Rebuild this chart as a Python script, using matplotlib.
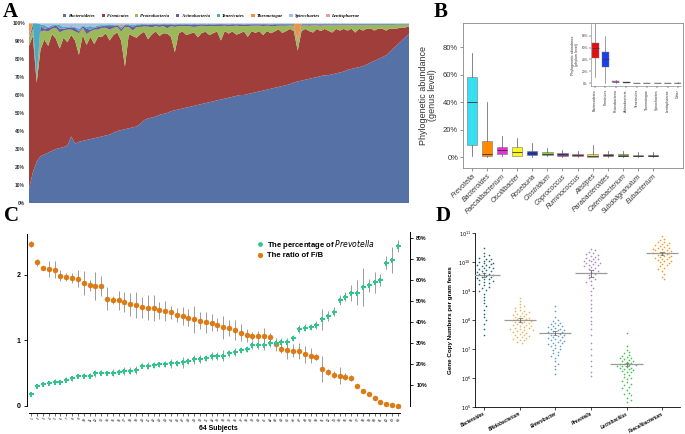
import matplotlib
matplotlib.use('Agg')
import matplotlib.pyplot as plt
from matplotlib.lines import Line2D
import numpy as np

plt.rcParams['font.family'] = ['Liberation Sans', 'DejaVu Sans']

# ---------------- panel A: phylum composition per sample (%)
phylum_names = ['Bacteroidetes', 'Firmicutes', 'Proteobacteria', 'Actinobacteria',
                'Tenericutes', 'Thermotogae', 'Spirochaetes', 'Lentisphaerae']
phylum_colors = ['#5571a6', '#9f3e3b', '#9bb95a', '#6e5a9a',
                 '#4aaac4', '#f19146', '#a9bde0', '#e3a19d']

bacteroidetes = [8, 17, 23, 26, 27, 28, 29, 30, 30.5, 31,
                 32, 37, 33, 34, 34.5, 35, 35.5, 36, 36.5, 37,
                 37.5, 38, 39, 40, 40.5, 41, 41.5, 42, 42.5, 44,
                 46, 47, 47.5, 48, 49, 49.5, 50, 51, 51.5, 52,
                 52.5, 53, 53.5, 54, 54.5, 55, 55.5, 56, 56.5, 57,
                 57.5, 58, 58.5, 59, 59.5, 60, 60, 60.5, 61, 61.5,
                 62, 62.5, 63, 63.5, 64, 64.5, 65, 65.5, 66, 67,
                 67.5, 68, 68.5, 69, 69.5, 70, 70.5, 71, 71, 71.5,
                 72, 72.5, 73, 74, 74.5, 75, 75.5, 76, 77, 78,
                 79, 80, 81, 82, 84, 86, 88, 90, 92, 94]
proteobacteria = [3, 4, 2, 10, 5, 8, 3, 6, 9, 4,
                  7, 3, 5, 12, 4, 6, 3, 8, 4, 5,
                  3, 6, 4, 3, 5, 22, 4, 3, 6, 4,
                  3, 7, 4, 3, 5, 4, 3, 6, 14, 4,
                  3, 5, 4, 3, 6, 4, 3, 5, 4, 3,
                  8, 3, 4, 3, 5, 4, 3, 6, 3, 4,
                  3, 5, 3, 4, 3, 2, 4, 3, 2, 3,
                  4, 3, 2, 3, 4, 2, 3, 2, 3, 4,
                  2, 3, 2, 3, 2, 4, 2, 3, 2, 2,
                  3, 2, 2, 3, 2, 2, 2, 1.5, 1.5, 1]
actinobacteria = [1, 2, 1, 3, 1, 2, 1, 1.5, 2, 1,
                  1, 1, 2, 1, 1, 3, 1, 1, 1.5, 1,
                  1, 2, 1, 1, 1.5, 1, 1, 2, 1, 1,
                  1, 1, 1.5, 1, 1, 1, 2, 1, 1, 1,
                  0.8, 1, 1, 1.5, 1, 0.8, 1, 1, 0.8, 1,
                  1, 0.8, 1, 1, 0.8, 1, 0.8, 1, 0.8, 0.8,
                  0.8, 1, 0.8, 0.8, 1, 0.8, 0.8, 0.8, 0.6, 0.8,
                  0.6, 0.8, 0.6, 0.8, 0.6, 0.6, 0.8, 0.6, 0.6, 0.6,
                  0.6, 0.5, 0.6, 0.5, 0.5, 0.6, 0.5, 0.5, 0.5, 0.4,
                  0.5, 0.4, 0.4, 0.5, 0.4, 0.4, 0.3, 0.3, 0.3, 0.3]
tenericutes = [0.5, 1, 30, 1, 2, 0.5, 1, 0.5, 2, 1,
               0.5, 1, 0.5, 1.5, 0.5, 1, 2, 0.5, 1, 0.5,
               0.5, 1, 0.5, 0.5, 1, 0.5, 0.5, 1, 0.5, 0.5,
               0.5, 0.3, 0.5, 0.3, 0.5, 0.3, 0.5, 0.3, 0.5, 0.3,
               0.5, 0.3, 0.5, 0.3, 0.5, 0.3, 0.5, 0.3, 0.5, 0.3,
               0.3, 0.3, 0.5, 0.3, 0.3, 0.3, 0.5, 0.3, 0.3, 0.3,
               0.3, 0.3, 0.3, 0.5, 0.3, 0.3, 0.3, 0.3, 0.3, 0.3,
               0.3, 0.3, 0.3, 0.3, 0.3, 0.3, 0.3, 0.3, 0.3, 0.3,
               0.3, 0.3, 0.3, 0.3, 0.3, 0.3, 0.3, 0.3, 0.3, 0.3,
               0.3, 0.3, 0.3, 0.3, 0.3, 0.3, 0.3, 0.3, 0.3, 0.3]
thermotogae = [8, 0, 0, 0, 0, 0, 0, 0, 0, 0,
               0, 0, 0, 0, 0, 0, 0, 0, 0, 0,
               0, 0, 0, 0, 1, 0, 0, 0, 0, 0,
               0, 0, 0, 0, 0, 0, 0, 0, 0, 0,
               0, 0, 0, 0, 0, 0, 0, 0, 0, 0,
               0, 0, 0, 0, 0, 0, 0, 0, 0, 0,
               0, 0, 0, 0, 0, 0, 0, 0, 0, 0,
               10, 0, 0, 0, 0, 0, 0, 0, 0, 0,
               0, 0, 0, 0, 0, 0, 0, 0, 0, 0,
               0, 0, 0, 0, 0, 0, 0, 0, 0, 0]
spirochaetes = [0, 0, 0, 0.5, 1, 2, 1, 0.5, 1, 2,
                2, 1.5, 2, 3, 1, 2, 1.5, 2, 1, 1,
                1, 0.5, 1, 0.5, 1, 0.5, 0.5, 1, 0.5, 0.5,
                0.2, 0.5, 0.2, 0.2, 0.5, 0.2, 0.2, 0.2, 0.5, 0.2,
                0.2, 0.2, 0.2, 0.2, 0.2, 0.2, 0.2, 0.2, 0.2, 0.2,
                0.2, 0.2, 0.2, 0.2, 0.2, 0.2, 0.2, 0.2, 0.2, 0.2,
                0.2, 0.2, 0.2, 0.2, 0.2, 0.2, 0.2, 0.2, 0.2, 0.2,
                0.2, 0.2, 0.2, 0.2, 0.2, 0.2, 0.2, 0.2, 0.2, 0.2,
                0.2, 0.2, 0.2, 0.2, 0.2, 0.2, 0.2, 0.2, 0.2, 0.2,
                0.2, 0.2, 0.2, 0.2, 0.2, 0.2, 0.2, 0.2, 0.2, 0.2]
lentisphaerae = [0.2, 0.2, 0.2, 0.2, 0.2, 0.2, 0.2, 0.2, 0.2, 0.2,
                 0.2, 0.2, 0.2, 0.2, 0.2, 0.2, 0.2, 0.2, 0.2, 0.2,
                 0.2, 0.2, 0.2, 0.2, 0.2, 0.2, 0.2, 0.2, 0.2, 0.2,
                 0.2, 0.2, 0.2, 0.2, 0.2, 0.2, 0.2, 0.2, 0.2, 0.2,
                 0.2, 0.2, 0.2, 0.2, 0.2, 0.2, 0.2, 0.2, 0.2, 0.2,
                 0.2, 0.2, 0.2, 0.2, 0.2, 0.2, 0.2, 0.2, 0.2, 0.2,
                 0.2, 0.2, 0.2, 0.2, 0.2, 0.2, 0.2, 0.2, 0.2, 0.2,
                 0.2, 0.2, 0.2, 0.2, 0.2, 0.2, 0.2, 0.2, 0.2, 0.2,
                 0.2, 0.2, 0.2, 0.2, 0.2, 0.2, 0.2, 0.2, 0.2, 0.2,
                 0.2, 0.2, 0.2, 0.2, 0.2, 0.2, 0.2, 0.2, 0.2, 0.2]

# ---------------- panel B: genus level boxes (%)
genus_names = ['Prevotella', 'Bacteroides', 'Faecalibacterium', 'Oscillibacter', 'Roseburia',
               'Clostridium', 'Coprococcus', 'Ruminococcus', 'Alistipes', 'Parabacteroides',
               'Catenibacterium', 'Subdoligranulum', 'Eubacterium']
genus_lo = [0.5, 0, 1, 0.5, 0.3, 0.5, 0, 0, 0, 0, 0, 0, 0]
genus_q1 = [9, 0.5, 2.5, 1, 1.5, 1.5, 1, 0.5, 0, 0.5, 0.5, 0.5, 0.5]
genus_med = [40, 2.5, 5, 4, 3, 2.5, 2, 1.5, 1, 1.2, 1, 1, 1]
genus_q3 = [58, 12, 7.5, 7, 4.5, 3.5, 3, 2.5, 2.5, 2.2, 2, 1.5, 1.8]
genus_hi = [76, 40, 15, 14, 10, 6.5, 5, 4.5, 9, 4.5, 4.5, 4, 3.5]
genus_colors = ['#35e0f0', '#ff8a00', '#e830d8', '#f8f820', '#1a38c8', '#88cc44', '#7a3aa8',
                '#e04a8a', '#e8d860', '#a02040', '#6a9030', '#8a9a6a', '#303030']

# inset: phylum level
inset_names = ['Bacteroidetes', 'Firmicutes', 'Proteobacteria', 'Actinobacteria', 'Tenericutes',
               'Thermotogae', 'Spirochaetes', 'Lentisphaerae', 'Other']
inset_lo = [10, 0, 0, 0, 0, 0, 0, 0, 0]
inset_q1 = [43, 28, 1.5, 0.5, 0, 0, 0, 0, 0.2]
inset_med = [60, 40, 2.5, 1, 0.2, 0.1, 0.1, 0.1, 0.4]
inset_q3 = [68, 52, 3.5, 1.3, 0.4, 0.2, 0.2, 0.2, 0.6]
inset_hi = [100, 80, 6, 2, 0.8, 0.5, 0.5, 0.4, 1]
inset_colors = ['#e01010', '#1e3fe8', '#e040c0', '#303030', '#999999',
                '#999999', '#999999', '#999999', '#999999']

# ---------------- panel C: 64 subjects
fb_ratio = [2.47, 2.19, 2.10, 2.09, 2.08, 1.99, 1.97, 1.95, 1.94, 1.88,
            1.84, 1.83, 1.83, 1.64, 1.62, 1.61, 1.59, 1.55, 1.54, 1.51,
            1.50, 1.49, 1.46, 1.45, 1.43, 1.39, 1.37, 1.35, 1.32, 1.30,
            1.28, 1.27, 1.24, 1.20, 1.19, 1.16, 1.12, 1.08, 1.07, 1.07,
            1.07, 1.05, 0.94, 0.87, 0.85, 0.84, 0.84, 0.79, 0.77, 0.75,
            0.56, 0.52, 0.48, 0.46, 0.45, 0.43, 0.31, 0.23, 0.18, 0.12,
            0.06, 0.03, 0.01, 0.00]
fb_err = [0.05, 0.05, 0.03, 0.12, 0.13, 0.08, 0.06, 0.08, 0.13, 0.18,
          0.08, 0.22, 0.15, 0.18, 0.06, 0.14, 0.15, 0.17, 0.20, 0.16,
          0.19, 0.20, 0.13, 0.15, 0.10, 0.11, 0.14, 0.13, 0.20, 0.13,
          0.16, 0.13, 0.10, 0.18, 0.12, 0.15, 0.13, 0.10, 0.06, 0.07,
          0.12, 0.06, 0.10, 0.06, 0.13, 0.10, 0.12, 0.13, 0.12, 0.05,
          0.20, 0.05, 0.05, 0.13, 0.05, 0.05, 0.03, 0.03, 0.03, 0.02,
          0.02, 0.02, 0.02, 0.02]
prevotella_pct = [5.6, 9.5, 10.3, 10.8, 11.6, 11.6, 12.6, 13.2, 14.3, 14.3,
                  14.5, 15.5, 15.8, 15.8, 15.9, 16.3, 16.6, 16.9, 17.2, 19.3,
                  19.3, 19.6, 19.8, 20.0, 20.3, 20.5, 20.8, 21.3, 22.2, 22.4,
                  22.9, 23.7, 23.7, 24.0, 25.1, 25.8, 26.6, 27.1, 29.0, 29.3,
                  29.3, 30.0, 30.1, 30.3, 30.3, 32.5, 36.6, 37.4, 37.7, 38.6,
                  41.4, 43.0, 45.1, 50.7, 52.2, 53.9, 54.1, 56.7, 57.6, 59.1,
                  60.2, 68.4, 69.7, 76.3]
prevotella_err = [0.8, 1.0, 1.0, 1.0, 1.2, 1.0, 1.0, 1.2, 1.0, 1.2,
                  1.0, 1.5, 1.2, 1.0, 1.5, 1.2, 2.0, 1.5, 2.0, 1.2,
                  1.5, 1.5, 1.2, 1.5, 2.0, 1.5, 2.5, 1.5, 2.0, 2.0,
                  1.5, 2.0, 2.0, 2.5, 1.5, 2.0, 1.5, 1.5, 2.0, 2.0,
                  2.5, 2.0, 1.5, 2.0, 2.0, 1.5, 2.0, 1.5, 1.5, 2.0,
                  5.0, 2.5, 2.0, 2.5, 2.0, 4.0, 6.0, 9.0, 3.0, 5.0,
                  3.0, 3.0, 6.0, 3.0]

# ---------------- panel D: log10 gene copies per gram feces
d_names = ['Bacteroides', 'Bifidobacterium', 'Enterobacter', 'Prevotella',
           'Lactobacillus', 'Faecalibacterium']
d_colors = ['#1d6878', '#f2b25a', '#5b9bd5', '#b583c8', '#39c445', '#f39a1e']
d_mean = [9.55, 8.0, 7.55, 9.62, 6.48, 10.3]
d_sem = [0.08, 0.06, 0.07, 0.12, 0.05, 0.05]
bacteroides_log = [10.5, 10.3, 10.25, 10.2, 10.15, 10.12, 10.1, 10.05, 10.02, 10.0,
                   9.98, 9.95, 9.92, 9.9, 9.88, 9.85, 9.82, 9.8, 9.78, 9.75,
                   9.72, 9.7, 9.68, 9.65, 9.62, 9.6, 9.58, 9.55, 9.52, 9.5,
                   9.48, 9.45, 9.42, 9.4, 9.38, 9.35, 9.3, 9.28, 9.25, 9.2,
                   9.15, 9.1, 9.05, 9.0, 8.9, 8.8, 8.7, 8.6, 8.5, 8.35,
                   8.2, 8.1, 8.0, 7.85, 7.7, 7.5]
bifido_log = [8.76, 8.65, 8.55, 8.5, 8.45, 8.4, 8.35, 8.32, 8.3, 8.27,
              8.25, 8.22, 8.2, 8.18, 8.15, 8.13, 8.1, 8.08, 8.06, 8.04,
              8.02, 8.0, 7.98, 7.96, 7.94, 7.92, 7.9, 7.88, 7.86, 7.84,
              7.82, 7.8, 7.78, 7.76, 7.74, 7.72, 7.7, 7.68, 7.66, 7.64,
              7.62, 7.6, 7.58, 7.55, 7.52, 7.5, 7.48, 7.45, 7.42, 7.4,
              7.38, 7.35, 7.32, 7.3, 7.25, 7.2]
entero_log = [8.5, 8.3, 8.1, 8.0, 7.95, 7.9, 7.88, 7.85, 7.82, 7.8,
              7.78, 7.75, 7.72, 7.7, 7.68, 7.66, 7.64, 7.62, 7.6, 7.58,
              7.55, 7.52, 7.5, 7.48, 7.45, 7.42, 7.4, 7.38, 7.35, 7.32,
              7.3, 7.28, 7.25, 7.22, 7.2, 7.18, 7.15, 7.12, 7.1, 7.05,
              7.0, 6.95, 6.9, 6.85, 6.8, 6.75, 6.7, 6.6, 6.5, 6.4,
              6.3, 6.14]
prevo_log = [10.45, 10.4, 10.35, 10.3, 10.28, 10.25, 10.2, 10.18, 10.15, 10.12,
             10.1, 10.08, 10.05, 10.02, 10.0, 9.98, 9.95, 9.92, 9.9, 9.88,
             9.85, 9.82, 9.8, 9.75, 9.72, 9.7, 9.65, 9.6, 9.55, 9.5,
             9.45, 9.4, 9.35, 9.3, 9.2, 9.1, 9.0, 8.85, 8.7, 8.55,
             8.4, 8.3, 8.1, 7.95, 7.85, 7.7, 7.5, 7.2, 7.0, 6.8,
             6.6, 6.4, 6.2, 6.07]
lacto_log = [7.55, 7.1, 6.98, 6.9, 6.85, 6.8, 6.75, 6.72, 6.7, 6.68,
             6.65, 6.62, 6.6, 6.58, 6.55, 6.52, 6.5, 6.48, 6.46, 6.44,
             6.42, 6.4, 6.38, 6.36, 6.34, 6.32, 6.3, 6.28, 6.25, 6.22,
             6.2, 6.15, 6.1, 6.05, 6.0, 5.95, 5.9, 5.85, 5.8, 5.75,
             5.7, 5.65, 5.6, 5.5, 5.45, 5.4, 5.3, 5.25, 5.17]
faecali_log = [10.9, 10.8, 10.75, 10.7, 10.68, 10.65, 10.62, 10.6, 10.58, 10.55,
               10.52, 10.5, 10.48, 10.46, 10.44, 10.42, 10.4, 10.38, 10.36, 10.34,
               10.32, 10.3, 10.28, 10.26, 10.24, 10.22, 10.2, 10.18, 10.16, 10.14,
               10.12, 10.1, 10.08, 10.05, 10.02, 10.0, 9.97, 9.94, 9.9, 9.85,
               9.8, 9.75, 9.7, 9.6, 9.5, 9.4]

W, H = 685, 434


def box(l, t, r, b):
    return [l / W, 1 - b / H, (r - l) / W, (b - t) / H]


def swarm(vals, d=2.9, ppd=29.0, ppu=36.0):
    # simple beeswarm layout, returns x offsets in category units
    placed = []
    offs = []
    for v in vals:
        y = v * ppd
        k = 0
        while True:
            cands = [0.0] if k == 0 else [k * d * 0.8, -k * d * 0.8]
            ok = None
            for cx in cands:
                if all((cx - px) ** 2 + (y - py) ** 2 >= d * d for px, py in placed):
                    ok = cx
                    break
            if ok is not None:
                break
            k += 1
        placed.append((ok, y))
        offs.append(ok / ppu)
    return np.array(offs)


fig = plt.figure(figsize=(6.85, 4.34), dpi=100)

label_kw = dict(family='Liberation Serif', weight='bold', fontsize=15, va='top')
fig.text(3 / W, 1 - 2 / H, 'A', **label_kw)
fig.text(434 / W, 1 - 2 / H, 'B', **label_kw)
fig.text(4 / W, 1 - 206 / H, 'C', **label_kw)
fig.text(436 / W, 1 - 206 / H, 'D', **label_kw)

# ---- A
axA = fig.add_axes(box(29, 23, 409, 203))
others = np.array([bacteroidetes, proteobacteria, actinobacteria, tenericutes,
                   thermotogae, spirochaetes, lentisphaerae])
firmicutes = 100 - others.sum(axis=0)
layers = [bacteroidetes, firmicutes, proteobacteria, actinobacteria, tenericutes,
          thermotogae, spirochaetes, lentisphaerae]
xs = np.arange(len(bacteroidetes))
axA.stackplot(xs, *layers, colors=phylum_colors, labels=phylum_names, lw=0)
axA.set_xlim(0, len(xs) - 1)
axA.set_ylim(0, 100)
axA.set_yticks(range(0, 101, 10))
axA.set_yticklabels([f'{v}%' for v in range(0, 101, 10)], fontsize=3.5, fontweight='bold',
                    color='#333333')
axA.set_xticks([])
axA.tick_params(axis='y', length=0, pad=3)
for s in axA.spines.values():
    s.set_visible(False)
axA.legend(loc='lower center', bbox_to_anchor=(0.48, 1.015), ncol=8, frameon=False,
           prop=dict(family='Liberation Serif', style='italic', weight='bold', size=3.4),
           handlelength=0.7, handleheight=0.7, handletextpad=0.4, columnspacing=1.4,
           borderpad=0)

# ---- B
axB = fig.add_axes(box(463, 23, 683, 168))
stats = [dict(whislo=a, q1=b, med=c, q3=d, whishi=e, label=n)
         for a, b, c, d, e, n in zip(genus_lo, genus_q1, genus_med, genus_q3, genus_hi, genus_names)]
bp = axB.bxp(stats, positions=range(len(stats)), widths=0.68, patch_artist=True,
             showfliers=False, showcaps=False,
             medianprops=dict(color='#333333', lw=0.6),
             whiskerprops=dict(color='#555555', lw=0.5),
             boxprops=dict(lw=0.4, edgecolor='#777777'))
for patch, c in zip(bp['boxes'], genus_colors):
    patch.set_facecolor(c)
axB.set_xlim(-0.6, 14.0)
axB.set_ylim(-8, 97.5)
axB.set_yticks([0, 20, 40, 60, 80])
axB.set_yticklabels(['0%', '20%', '40%', '60%', '80%'], fontsize=5.5, color='#333333')
axB.set_xticks(range(len(genus_names)))
axB.set_xticklabels(genus_names, rotation=45, ha='right', rotation_mode='anchor',
                    fontsize=5, style='italic', color='#333333')
axB.tick_params(length=2, width=0.5, pad=1.5, color='#666666')
axB.set_ylabel('Phylogenetic abundance\n(genus level)', fontsize=6.5, color='#333333',
               labelpad=4, linespacing=1.1)
for s in axB.spines.values():
    s.set_linewidth(0.6)
    s.set_color('#888888')

axI = fig.add_axes(box(591, 24, 681, 86))
stats_i = [dict(whislo=a, q1=b, med=c, q3=d, whishi=e, label=n)
           for a, b, c, d, e, n in zip(inset_lo, inset_q1, inset_med, inset_q3, inset_hi, inset_names)]
bpi = axI.bxp(stats_i, positions=range(len(stats_i)), widths=0.7, patch_artist=True,
              showfliers=False, showcaps=False,
              medianprops=dict(color='#333333', lw=0.4),
              whiskerprops=dict(color='#555555', lw=0.4),
              boxprops=dict(lw=0.3, edgecolor='#777777'))
for patch, c in zip(bpi['boxes'], inset_colors):
    patch.set_facecolor(c)
axI.set_xlim(-0.4, 8.3)
axI.set_ylim(-5, 100)
axI.set_yticks([0, 20, 40, 60, 80])
axI.set_yticklabels(['0%', '20%', '40%', '60%', '80%'], fontsize=2.3, color='#333333')
axI.set_xticks(range(len(inset_names)))
axI.set_xticklabels(inset_names, rotation=90, fontsize=2.5, color='#333333')
axI.tick_params(length=1.2, width=0.3, pad=1)
axI.set_ylabel('Phylogenetic abundance\n(phylum level)', fontsize=2.6, labelpad=1.5,
               color='#333333')
axI.patch.set_alpha(0)
axI.spines['top'].set_visible(False)
axI.spines['right'].set_visible(False)
for s in ('left', 'bottom'):
    axI.spines[s].set_linewidth(0.4)
    axI.spines[s].set_color('#777777')

# ---- C
orange, green = '#e07a10', '#2fc58b'
axC = fig.add_axes(box(27, 233, 410, 413))
subjects = np.arange(1, len(fb_ratio) + 1)
axC.errorbar(subjects, fb_ratio, yerr=fb_err, fmt='o', color=orange, ms=3.6,
             mec='#d06a00', mew=0.3, ecolor='#8c8c8c', elinewidth=0.6, capsize=0,
             zorder=3)
axC.set_xlim(0.25, 66.1)
axC.set_ylim(-0.107, 2.64)
axC.set_yticks([0, 1, 2])
axC.set_yticklabels(['0', '1', '2'], fontsize=5, fontweight='bold')
axC.set_xticks(subjects)
axC.set_xticklabels([str(s) for s in subjects], rotation=60, fontsize=2.4,
                    ha='right', rotation_mode='anchor')
axC.tick_params(axis='x', length=2, width=0.4, pad=1)
axC.tick_params(axis='y', length=2.5, width=0.6, pad=2)
axC.set_xlabel('64 Subjects', fontsize=5, fontweight='bold', labelpad=2)
axC.spines['top'].set_visible(False)
axC.spines['right'].set_visible(False)
axC.spines['left'].set_bounds(0, 2.62)
axC.spines['bottom'].set_bounds(0.6, 64.4)
for s in ('left', 'bottom'):
    axC.spines[s].set_linewidth(0.7)

axC2 = axC.twinx()
axC2.errorbar(subjects, np.array(prevotella_pct) / 100, yerr=np.array(prevotella_err) / 100,
              fmt='P', color=green, ms=3.6, mew=0, ecolor='#8c8c8c',
              elinewidth=0.6, capsize=0, zorder=3)
axC2.set_ylim(-7 / 207, (404 - 233) / 207)
axC2.set_yticks([0.1, 0.2, 0.3, 0.4, 0.5, 0.6, 0.7, 0.8])
axC2.set_yticklabels([f'{v}%' for v in range(10, 81, 10)], fontsize=3.8, fontweight='bold')
axC2.tick_params(axis='y', length=2.5, width=0.6, pad=2)
for s in ('top', 'left', 'bottom'):
    axC2.spines[s].set_visible(False)
axC2.spines['right'].set_bounds(0, 0.83)
axC2.spines['right'].set_linewidth(0.7)
leg_handles = [Line2D([], [], ls='none', marker='o', ms=3.4, color=green, mew=0),
               Line2D([], [], ls='none', marker='o', ms=3.8, color=orange, mew=0)]
axC2.legend(leg_handles, [r'The percentage of $\it{Prevotella}$', 'The ratio of F/B'],
            loc='upper left', bbox_to_anchor=(252 / W, 1 - 234 / H),
            bbox_transform=fig.transFigure, frameon=False,
            prop=dict(size=5.5, weight='bold'), handlelength=1.0, handletextpad=0.4,
            labelspacing=0.15, borderpad=0)

# ---- D
axD = fig.add_axes(box(475, 233, 680, 407))
d_groups = [bacteroides_log, bifido_log, entero_log, prevo_log, lacto_log, faecali_log]
for k, vals in enumerate(d_groups):
    offs = swarm(vals)
    axD.scatter(k + offs, 10 ** np.array(vals), s=1.4, color=d_colors[k], lw=0, zorder=2)
    axD.hlines(10 ** d_mean[k], k - 0.45, k + 0.45, color='#9a9a9a', lw=0.9, zorder=3)
    axD.errorbar([k], [10 ** d_mean[k]],
                 yerr=[[10 ** d_mean[k] - 10 ** (d_mean[k] - d_sem[k])],
                       [10 ** (d_mean[k] + d_sem[k]) - 10 ** d_mean[k]]],
                 fmt='none', ecolor='#666666', elinewidth=0.6, capsize=1.5, capthick=0.5,
                 zorder=4)
axD.set_yscale('log')
axD.set_ylim(1e5, 1e11)
axD.set_yticks([10.0 ** e for e in range(5, 12)])
axD.set_yticklabels([f'$10^{{{e}}}$' for e in range(5, 12)], fontsize=3.5)
axD.minorticks_off()
axD.set_xlim(-0.25, 5.5)
axD.set_xticks(range(len(d_names)))
axD.set_xticklabels(d_names, rotation=28, ha='right', rotation_mode='anchor', fontsize=3.3,
                    style='italic', fontweight='bold')
axD.tick_params(length=2, width=0.5, pad=1)
axD.set_ylabel('Gene Copy Numbers per gram feces', fontsize=4.5, fontweight='bold', labelpad=4)
axD.spines['top'].set_visible(False)
axD.spines['right'].set_visible(False)
for s in ('left', 'bottom'):
    axD.spines[s].set_linewidth(0.6)

fig.savefig('out.png', dpi=100)
